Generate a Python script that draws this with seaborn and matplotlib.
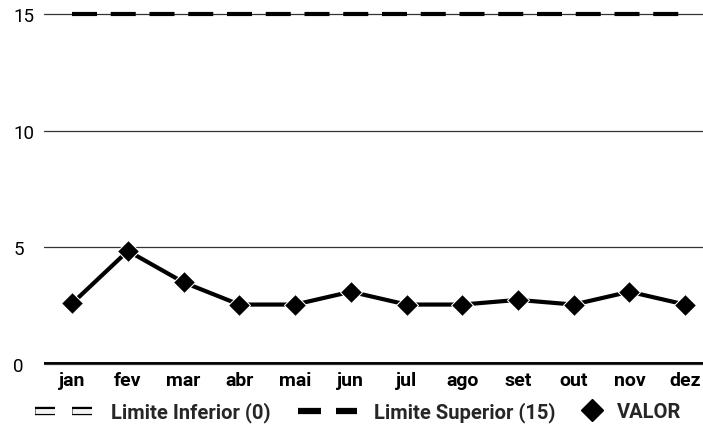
import matplotlib
matplotlib.use("Agg")
import matplotlib.pyplot as plt
import matplotlib.patheffects as pe
import seaborn as sns
import pandas as pd
from matplotlib.lines import Line2D

meses = ["jan", "fev", "mar", "abr", "mai", "jun", "jul", "ago", "set", "out", "nov", "dez"]
valor = [2.6, 4.85, 3.5, 2.55, 2.55, 3.1, 2.55, 2.55, 2.75, 2.55, 3.1, 2.55]
lim_inf = [0] * 12
lim_sup = [15] * 12
yticks = [0, 5, 10, 15]

sns.set_theme(style="white")
plt.rcParams['font.family'] = ['Roboto', 'DejaVu Sans']
plt.rcParams['font.weight'] = 'bold'

FS = 14.5
PX = 72 / 100  # points per pixel

df = pd.DataFrame({"mes": meses, "VALOR": valor, "inf": lim_inf, "sup": lim_sup})

fig = plt.figure(figsize=(7.03, 4.31), dpi=100)
ax = fig.add_axes([0.063, 0.153, 0.937, 0.812])

for y in yticks:
    ax.axhline(y, color="#333333", lw=0.9, zorder=0, clip_on=False)
ax.axhline(0, color="black", lw=2.8, zorder=1)

sns.lineplot(data=df, x="mes", y="inf", ax=ax, color="#e6e6e6", lw=3,
             sort=False, zorder=0.5)
sns.lineplot(data=df, x="mes", y="sup", ax=ax, color="black", lw=3,
             sort=False, zorder=3)
ax.lines[-1].set_dashes([6, 3.3])
ax.lines[-1].set_clip_on(False)
sns.lineplot(data=df, x="mes", y="VALOR", ax=ax, color="black", lw=3,
             marker="D", markersize=11, sort=False, zorder=4)

ax.set_ylim(0, 15)
ax.set_xlim(-0.5, 11.32)
ax.set_yticks(yticks)
ax.set_xlabel("")
ax.set_ylabel("")
ax.tick_params(axis="x", length=0, labelsize=14, colors="black", pad=5)
ax.tick_params(axis="y", length=0, labelsize=13.5, colors="black")
for lab in ax.get_yticklabels():
    lab.set_horizontalalignment("left")
    lab.set_fontweight("normal")
for lab in ax.get_yticklabels():
    lab.set_transform(ax.get_yaxis_transform())
    lab.set_x(-0.047)
for s in ax.spines.values():
    s.set_visible(False)

# legend handles: dash pattern in units of linewidth
h_inf = Line2D([], [], color="#f4f4f4", lw=3.5,
               dashes=[20 * PX / 3.5, 17 * PX / 3.5],
               path_effects=[pe.Stroke(linewidth=6, foreground="black"), pe.Normal()])
h_sup = Line2D([], [], color="black", lw=4.5,
               dashes=[23 * PX / 4.5, 15 * PX / 4.5])
h_val = Line2D([], [], color="black", lw=0, marker="D", markersize=11)

HL = 59 * PX / FS
leg1 = fig.legend([h_inf, h_sup], ["Limite Inferior (0)", "Limite Superior (15)"],
                  loc="center left", bbox_to_anchor=(35 / 703, 0.042), ncol=2,
                  frameon=False, fontsize=FS, handlelength=HL,
                  columnspacing=27 * PX / FS, handletextpad=17 * PX / FS,
                  borderpad=0, borderaxespad=0)
leg2 = fig.legend([h_val], ["VALOR"],
                  loc="center left", bbox_to_anchor=(580 / 703, 0.042),
                  frameon=False, fontsize=FS, handlelength=24 * PX / FS,
                  handletextpad=13 * PX / FS, borderpad=0, borderaxespad=0)

fig.savefig("out.png", dpi=100)
